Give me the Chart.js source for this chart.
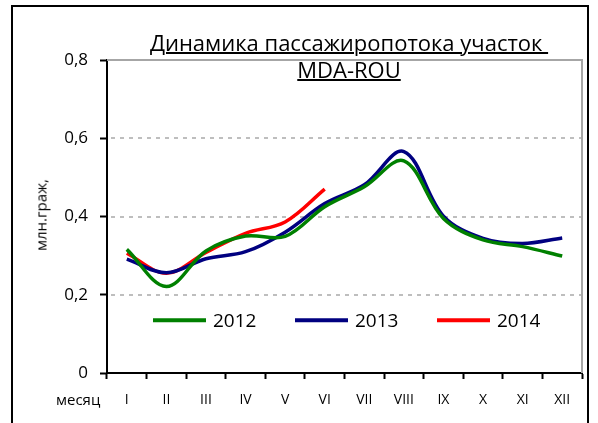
<!DOCTYPE html>
<html><head><meta charset="utf-8">
<script src="https://cdn.jsdelivr.net/npm/chart.js@4/dist/chart.umd.min.js"></script>
<style>
html,body{margin:0;padding:0;background:#fff;}
#wrap{position:relative;width:598px;height:423px;overflow:hidden;font-family:"Open Sans",sans-serif;background:#fff;}
#frame{position:absolute;left:11px;top:5px;width:574px;height:440px;border:2px solid #000;}
canvas{position:absolute;left:0;top:0;}
.t{position:absolute;color:#000;white-space:nowrap;line-height:1;}
#t1,#t2{left:0;width:698px;text-align:center;font-size:22px;}
#t1{top:31px;}
#t2{top:58px;}
.u{text-decoration:underline;text-decoration-thickness:2px;}
#yt{left:41px;top:215px;font-size:15px;transform:translate(-50%,-50%) rotate(-90deg);}
#xt{left:56px;top:392px;font-size:15px;}
</style>
</head><body>
<div id="wrap">
<div id="frame"></div>
<canvas id="c" width="598" height="423"></canvas>
<div class="t" id="t1"><span class="u">Динамика пассажиропотока участок&nbsp;</span></div>
<div class="t" id="t2"><span class="u">MDA-ROU</span></div>
<div class="t" id="yt">млн.граж,</div>
<div class="t" id="xt">месяц</div>
</div>
<script>
const months = ["I","II","III","IV","V","VI","VII","VIII","IX","X","XI","XII"];
const seriesNames = ["2012","2013","2014"];
const values2012 = [0.316,0.221,0.312,0.350,0.349,0.425,0.476,0.542,0.395,0.340,0.323,0.299];
const values2013 = [0.291,0.256,0.292,0.310,0.360,0.433,0.481,0.566,0.401,0.344,0.331,0.345];
const values2014 = [0.306,0.255,0.308,0.357,0.386,0.470];
const yTicks = [0,0.2,0.4,0.6,0.8];

const FONT = '"Open Sans", sans-serif';

const frameGrid = {
  id:'frameGrid',
  beforeDatasetsDraw(chart){
    const {ctx, chartArea:a, scales:{y}} = chart;
    ctx.save();
    ctx.lineWidth = 2;
    ctx.strokeStyle = '#BEBEBE';
    ctx.setLineDash([4,5]);
    yTicks.forEach(v=>{
      if(v<=0 || v>=0.8) return;
      const py = Math.round(y.getPixelForValue(v));
      ctx.beginPath(); ctx.moveTo(a.left+4, py); ctx.lineTo(a.right, py); ctx.stroke();
    });
    ctx.setLineDash([]);
    ctx.strokeStyle = '#A6A6A6';
    const top = Math.round(y.getPixelForValue(0.8));
    ctx.beginPath(); ctx.moveTo(a.left, top); ctx.lineTo(a.right, top); ctx.lineTo(a.right, a.bottom); ctx.stroke();
    ctx.restore();
  }
};

const insideLegend = {
  id:'insideLegend',
  afterDatasetsDraw(chart){
    const {ctx, scales:{y}} = chart;
    const ly = y.getPixelForValue(0.135);
    const starts = [153, 295, 437];
    ctx.save();
    ctx.font = '19px ' + FONT;
    ctx.textBaseline = 'middle';
    ctx.fillStyle = '#000';
    chart.data.datasets.forEach((ds,i)=>{
      ctx.strokeStyle = ds.borderColor;
      ctx.lineWidth = 4;
      ctx.beginPath(); ctx.moveTo(starts[i], ly); ctx.lineTo(starts[i]+53, ly); ctx.stroke();
      ctx.fillText(ds.label, starts[i]+60, ly+1);
    });
    ctx.restore();
  }
};

new Chart(document.getElementById('c'), {
  type:'line',
  data:{
    labels: months,
    datasets:[
      {label:seriesNames[0], data:values2012, borderColor:'#008000'},
      {label:seriesNames[1], data:values2013, borderColor:'#000080'},
      {label:seriesNames[2], data:values2014, borderColor:'#FF0000'}
    ]
  },
  options:{
    responsive:false,
    animation:false,
    devicePixelRatio:1,
    layout:{padding:{left:0,top:60,right:16,bottom:0}},
    elements:{
      line:{borderWidth:3.5, tension:0.35, fill:false},
      point:{radius:0, hoverRadius:0}
    },
    plugins:{legend:{display:false}, title:{display:false}, tooltip:{enabled:false}},
    scales:{
      x:{
        offset:true,
        grid:{offset:true, drawOnChartArea:false, drawTicks:true, tickLength:6, tickColor:'#000', tickWidth:2},
        border:{color:'#000', width:2},
        ticks:{color:'#000', font:{family:FONT, size:14}, padding:13, maxRotation:0, autoSkip:false},
        afterFit(s){ s.height = 50; }
      },
      y:{
        min:0, max:0.8,
        afterBuildTicks(s){ s.ticks = yTicks.map(v=>({value:v})); },
        grid:{drawOnChartArea:false, drawTicks:true, tickLength:7, tickColor:'#000', tickWidth:2},
        border:{color:'#000', width:2},
        ticks:{color:'#000', font:{family:FONT, size:17}, padding:12,
          callback:(v)=> v===0 ? '0' : v.toFixed(1).replace('.',',')},
        afterFit(s){ s.width = 107; }
      }
    }
  },
  plugins:[frameGrid, insideLegend]
});
</script>
</body></html>
